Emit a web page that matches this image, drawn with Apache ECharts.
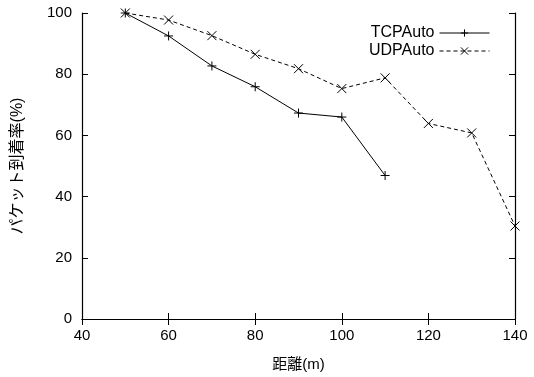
<!DOCTYPE html>
<html>
<head>
<meta charset="utf-8">
<script src="https://cdn.jsdelivr.net/npm/echarts@6/dist/echarts.min.js"></script>
<style>
  html, body { margin: 0; padding: 0; background: #fff; }
  #chart { width: 534px; height: 377px; }
</style>
</head>
<body>
<div id="chart"></div>
<script>
// 距離(m) と到着率(%)
const tcpDist = [50, 60, 70, 80, 90, 100, 110]
const tcpRate = [100, 92.5, 82.7, 75.9, 67.3, 66.0, 46.9]
const udpDist = [50, 60, 70, 80, 90, 100, 110, 120, 130, 140]
const udpRate = [100, 97.7, 92.6, 86.5, 81.8, 75.3, 78.8, 63.9, 60.8, 30.4]

const font = 'Liberation Sans, Arial, Noto Sans CJK JP, sans-serif'
const plus = 'path://M0,5L10,5M5,0L5,10'
const cross = 'path://M0,0L10,10M0,10L10,0'

const chart = echarts.init(document.getElementById('chart'))

const tick = { show: true, inside: true, length: 6, lineStyle: { color: '#000', width: 1 } }

chart.setOption({
  animation: false,
  textStyle: { fontFamily: font, color: '#000' },
  grid: { left: 82, right: 19, top: 13, bottom: 57 },
  legend: {
    right: 39,
    top: 20,
    orient: 'vertical',
    align: 'right',
    itemGap: 2,
    itemWidth: 50,
    itemHeight: 9,
    textStyle: { fontFamily: font, fontSize: 16, color: '#000', padding: [0, 0, 0, 2] },
    lineStyle: { width: 1 },
    itemStyle: { borderWidth: 1 },
    data: ['TCPAuto', 'UDPAuto']
  },
  xAxis: [
    {
      type: 'value', min: 40, max: 140, interval: 20,
      name: '距離(m)', nameLocation: 'middle', nameGap: 38,
      nameTextStyle: { fontSize: 15, color: '#000', fontFamily: font },
      axisLine: { show: true, lineStyle: { color: '#000', width: 1.2 } },
      axisTick: tick,
      axisLabel: { fontSize: 15, color: '#000', margin: 9 },
      splitLine: { show: false }
    },
    {
      type: 'value', min: 40, max: 140, interval: 20, position: 'top',
      axisLine: { show: true, lineStyle: { color: '#000', width: 1.2 } },
      axisTick: tick, axisLabel: { show: false }, splitLine: { show: false }
    }
  ],
  yAxis: [
    {
      type: 'value', min: 0, max: 100, interval: 20,
      name: 'パケット到着率(%)', nameLocation: 'middle', nameGap: 56,
      nameTextStyle: { fontSize: 16, color: '#000', fontFamily: font },
      axisLine: { show: true, lineStyle: { color: '#000', width: 1.2 } },
      axisTick: tick,
      axisLabel: { fontSize: 15, color: '#000', margin: 10 },
      splitLine: { show: false }
    },
    {
      type: 'value', min: 0, max: 100, interval: 20, position: 'right',
      axisLine: { show: true, lineStyle: { color: '#000', width: 1.2 } },
      axisTick: tick, axisLabel: { show: false }, splitLine: { show: false }
    }
  ],
  series: [
    {
      name: 'TCPAuto',
      type: 'line',
      data: tcpDist.map((d, i) => [d, tcpRate[i]]),
      symbol: plus,
      symbolSize: 9,
      showAllSymbol: true,
      itemStyle: { color: '#000', borderColor: '#000', borderWidth: 1 },
      lineStyle: { color: '#000', width: 1 }
    },
    {
      name: 'UDPAuto',
      type: 'line',
      data: udpDist.map((d, i) => [d, udpRate[i]]),
      symbol: cross,
      symbolSize: 9,
      showAllSymbol: true,
      itemStyle: { color: '#000', borderColor: '#000', borderWidth: 1 },
      lineStyle: { color: '#000', width: 1, type: [4, 3] }
    }
  ]
})
</script>
</body>
</html>
